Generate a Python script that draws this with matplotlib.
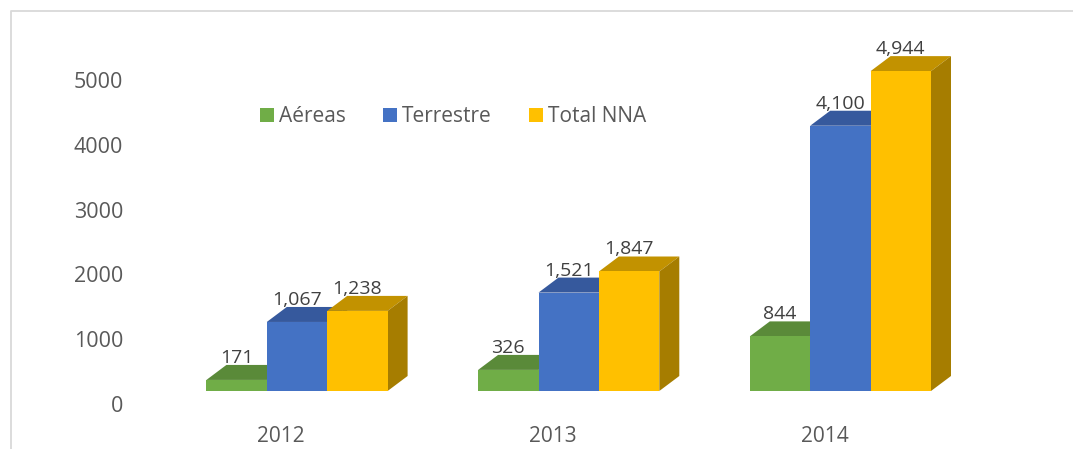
import matplotlib
matplotlib.use("Agg")
import matplotlib.pyplot as plt
from matplotlib.patches import Polygon, Rectangle

years = ["2012", "2013", "2014"]
aereas = [171, 326, 844]
terrestre = [1067, 1521, 4100]
total = [1238, 1847, 4944]
series_names = ["Aéreas", "Terrestre", "Total NNA"]
front_colors = ["#70AD47", "#4472C4", "#FFC000"]
top_colors = ["#5A8A39", "#36599D", "#C29200"]
side_colors = ["#4E7A32", "#2F5597", "#A67D00"]

plt.rcParams["font.family"] = ["Open Sans", "DejaVu Sans"]
W, H = 1073, 449
fig = plt.figure(figsize=(W / 100, H / 100), dpi=100)

# frame of the chart area: left and top only are visible
fig.add_artist(plt.Line2D([10.5 / W, 10.5 / W, 1],
                          [0, 1 - 11 / H, 1 - 11 / H], color="#D9D9D9", lw=1.3))

# axes for the bars: y=0 at pixel row 391, 0.0647 px per unit
L, R, B, T = 123, 1000, 391, 40
gap = 271.7
ax = fig.add_axes([L / W, 1 - B / H, (R - L) / W, (B - T) / H])
ax.set_ylim(0, (B - T) / 0.0647)
ax.set_xlim((L - 297.0) / gap, (R - 297.0) / gap)
ax.axis("off")
bw = 60.4 / gap
xpx = 1 / gap
ypx = 1 / 0.0647
DX, DY = 20 * xpx, 15 * ypx

allvals = [aereas, terrestre, total]
for si, vals in enumerate(allvals):
    off = (si - 1) * bw
    for i, v in enumerate(vals):
        x0 = i + off - bw / 2
        x1 = x0 + bw
        z = 3 + si
        ax.add_patch(Polygon([(x0, v), (x1, v), (x1 + DX, v + DY), (x0 + DX, v + DY)],
                             fc=top_colors[si], ec="none", zorder=z, clip_on=False))
        ax.add_patch(Polygon([(x1, 0), (x1 + DX, DY), (x1 + DX, v + DY), (x1, v)],
                             fc=side_colors[si], ec="none", zorder=z, clip_on=False))
        ax.add_patch(Rectangle((x0, 0), bw, v, fc=front_colors[si], ec="none",
                               zorder=z + 0.1, clip_on=False))
        ax.annotate(f"{v:,}", (x0 + bw / 2, v + DY), xytext=(0, -2),
                    textcoords="offset pixels", ha="center", va="bottom", fontsize=14,
                    color="#404040", zorder=10, annotation_clip=False)

# tick labels sit on their own scale, below and left of the front of the bars
B2, T2 = 404, 404 - 0.0648 * 5200
ax2 = fig.add_axes([L / W, 1 - B2 / H, (R - L) / W, (B2 - T2) / H], zorder=-1)
ax2.set_ylim(0, 5200)
ax2.set_xlim((L - 281.0) / 272, (R - 281.0) / 272)
ax2.patch.set_alpha(0)
for s in ax2.spines.values():
    s.set_visible(False)
ax2.set_xticks(range(len(years)), years)
ax2.set_yticks(range(0, 6000, 1000))
ax2.tick_params(length=0, colors="#595959")
ax2.tick_params(axis="y", pad=0, labelsize=15.5)
ax2.tick_params(axis="x", pad=16, labelsize=15)

# legend
handles = [Rectangle((0, 0), 1, 1, fc=c, ec="none") for c in front_colors]
ax.legend(handles, series_names, loc="center",
          bbox_to_anchor=((453 - L) / (R - L), (B - 117) / (B - T)),
          ncol=3, frameon=False, fontsize=15, labelcolor="#595959",
          handlelength=0.67, handleheight=0.67, handletextpad=0.24,
          columnspacing=1.8, borderpad=0, borderaxespad=0)

fig.savefig("out.png", dpi=100)
